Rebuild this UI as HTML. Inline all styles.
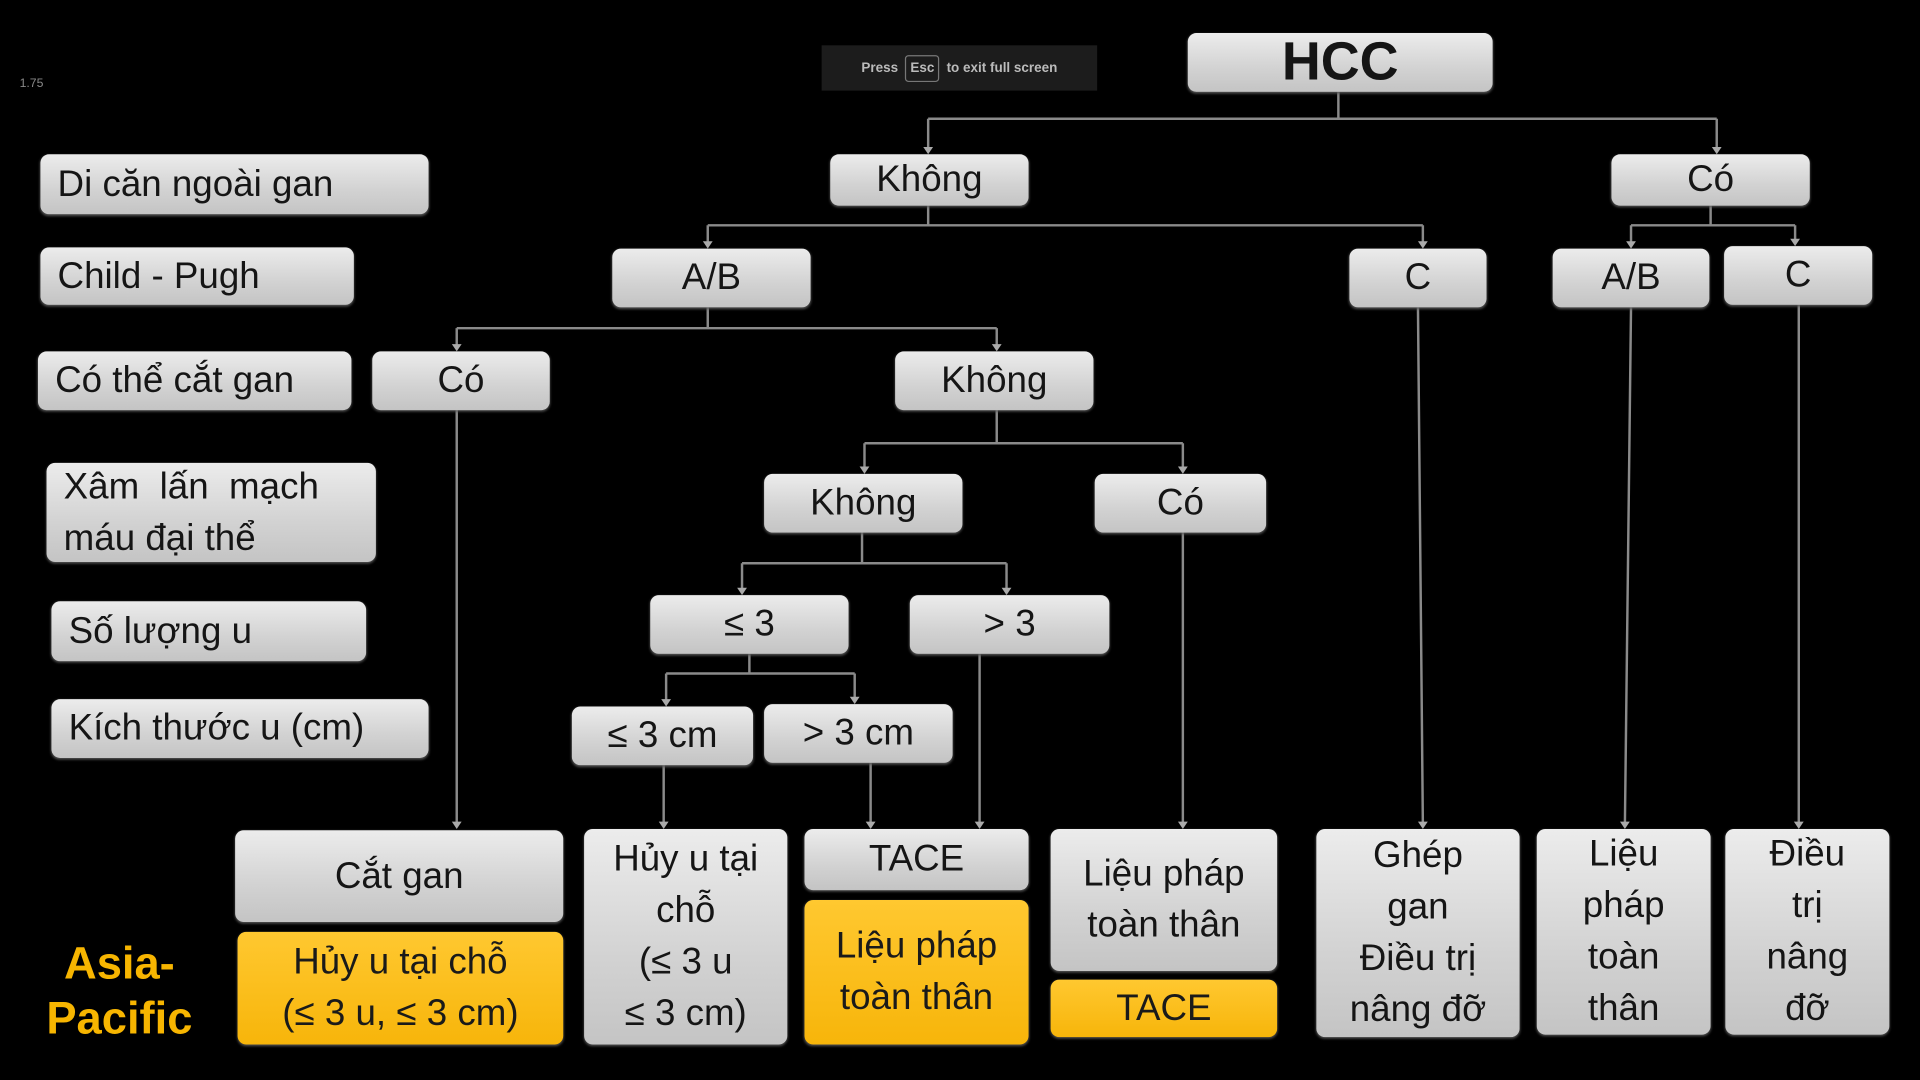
<!DOCTYPE html>
<html><head><meta charset="utf-8">
<style>
html,body{margin:0;padding:0;background:#000;width:1920px;height:1080px;overflow:hidden}
#wrap{position:absolute;left:0;top:0;width:1568px;height:882px;transform:scale(1.22449);transform-origin:0 0;font-family:"Liberation Sans","DejaVu Sans",sans-serif}
.b{position:absolute;box-sizing:border-box;border-radius:7px;background:linear-gradient(#ececec,#d2d2d2 60%,#c4c4c4);color:#151515;display:flex;align-items:center;justify-content:center;text-align:center;font-size:30px;line-height:42px;box-shadow:0 1px 2px #555}
.l{justify-content:flex-start;padding-left:14px;text-align:left}
.o{background:linear-gradient(#ffc830,#f7b50a);color:#1a1a1a}
svg{position:absolute;left:0;top:0}
</style></head><body>
<div id="wrap">
<svg width="1568" height="882">
<defs><marker id="a" markerWidth="8" markerHeight="8" refX="4" refY="6" orient="auto-start-reverse" markerUnits="userSpaceOnUse"><path d="M0,0 L8,0 L4,7z" fill="#999" transform="rotate(0)"/></marker></defs>
<g stroke="#8a8a8a" stroke-width="2" fill="none">
<path d="M1093 75V97M758 97H1402"/><path d="M758 97V122M1402 97V122"/>
<path d="M758 168V184M578 184H1162M578 184V199M1162 184V199"/>
<path d="M1397 168V184M1332 184H1466M1332 184V199M1466 184V197"/>
<path d="M578 251V268M373 268H814M373 268V283M814 268V283"/>
<path d="M373 335V673"/>
<path d="M814 335V362M706 362H966M706 362V383M966 362V383"/>
<path d="M704 435V460M606 460H822M606 460V482M822 460V482"/>
<path d="M966 435V673"/>
<path d="M612 534V550M544 550H698M544 550V573M698 550V571"/>
<path d="M542 625V673M711 623V673M800 534V673"/>
<path d="M1158 251L1162 673M1332 251L1327 673M1469 249V673"/>
</g>
<g fill="#aaa">
<path d="M754 120h8l-4 6z"/><path d="M1398 120h8l-4 6z"/><path d="M574 197h8l-4 6z"/><path d="M1158 197h8l-4 6z"/><path d="M1328 197h8l-4 6z"/><path d="M1462 195h8l-4 6z"/>
<path d="M369 281h8l-4 6z"/><path d="M810 281h8l-4 6z"/><path d="M702 381h8l-4 6z"/><path d="M962 381h8l-4 6z"/><path d="M602 480h8l-4 6z"/><path d="M818 480h8l-4 6z"/><path d="M540 571h8l-4 6z"/><path d="M694 569h8l-4 6z"/>
<path d="M369 671h8l-4 6z"/><path d="M538 671h8l-4 6z"/><path d="M707 671h8l-4 6z"/><path d="M796 671h8l-4 6z"/><path d="M962 671h8l-4 6z"/><path d="M1158 671h8l-4 6z"/><path d="M1323 671h8l-4 6z"/><path d="M1465 671h8l-4 6z"/>
</g>
</svg>
<div style="position:absolute;left:16px;top:63px;font-size:10px;color:#888">1.75</div>
<div style="position:absolute;left:671px;top:37px;width:225px;height:37px;background:#1c1c1c;color:#bbb;font-size:11px;display:flex;align-items:center;justify-content:center;gap:6px;font-weight:bold">Press <span style="border:1px solid #777;border-radius:3px;padding:4px 3px">Esc</span> to exit full screen</div>

<div class="b" style="left:970px;top:27px;width:249px;height:48px;font-size:44px;font-weight:bold">HCC</div>

<div class="b l" style="left:33px;top:126px;width:317px;height:49px">Di căn ngoài gan</div>
<div class="b l" style="left:33px;top:202px;width:256px;height:47px">Child - Pugh</div>
<div class="b l" style="left:31px;top:287px;width:256px;height:48px">Có thể cắt gan</div>
<div class="b l" style="left:38px;top:378px;width:269px;height:81px;text-align:justify">Xâm &nbsp;lấn &nbsp;mạch<br>máu đại thể</div>
<div class="b l" style="left:42px;top:491px;width:257px;height:49px">Số lượng u</div>
<div class="b l" style="left:42px;top:571px;width:308px;height:48px">Kích thước u (cm)</div>

<div class="b" style="left:678px;top:126px;width:162px;height:42px">Không</div>
<div class="b" style="left:1316px;top:126px;width:162px;height:42px">Có</div>
<div class="b" style="left:500px;top:203px;width:162px;height:48px">A/B</div>
<div class="b" style="left:1102px;top:203px;width:112px;height:48px">C</div>
<div class="b" style="left:1268px;top:203px;width:128px;height:48px">A/B</div>
<div class="b" style="left:1408px;top:201px;width:121px;height:48px">C</div>
<div class="b" style="left:304px;top:287px;width:145px;height:48px">Có</div>
<div class="b" style="left:731px;top:287px;width:162px;height:48px">Không</div>
<div class="b" style="left:624px;top:387px;width:162px;height:48px">Không</div>
<div class="b" style="left:894px;top:387px;width:140px;height:48px">Có</div>
<div class="b" style="left:531px;top:486px;width:162px;height:48px">≤ 3</div>
<div class="b" style="left:743px;top:486px;width:163px;height:48px">&gt; 3</div>
<div class="b" style="left:467px;top:577px;width:148px;height:48px">≤ 3 cm</div>
<div class="b" style="left:624px;top:575px;width:154px;height:48px">&gt; 3 cm</div>

<div class="b" style="left:192px;top:678px;width:268px;height:75px">Cắt gan</div>
<div class="b o" style="left:194px;top:761px;width:266px;height:92px">Hủy u tại chỗ<br>(≤ 3 u, ≤ 3 cm)</div>
<div class="b" style="left:477px;top:677px;width:166px;height:176px">Hủy u tại<br>chỗ<br>(≤ 3 u<br>≤ 3 cm)</div>
<div class="b" style="left:657px;top:677px;width:183px;height:50px">TACE</div>
<div class="b o" style="left:657px;top:735px;width:183px;height:118px">Liệu pháp<br>toàn thân</div>
<div class="b" style="left:858px;top:677px;width:185px;height:116px">Liệu pháp<br>toàn thân</div>
<div class="b o" style="left:858px;top:800px;width:185px;height:47px">TACE</div>
<div class="b" style="left:1075px;top:677px;width:166px;height:170px">Ghép<br>gan<br>Điều trị<br>nâng đỡ</div>
<div class="b" style="left:1255px;top:677px;width:142px;height:168px">Liệu<br>pháp<br>toàn<br>thân</div>
<div class="b" style="left:1409px;top:677px;width:134px;height:168px">Điều<br>trị<br>nâng<br>đỡ</div>

<div style="position:absolute;left:30px;top:764px;width:135px;color:#f7b500;font-weight:bold;font-size:37px;line-height:45px;text-align:center">Asia-<br>Pacific</div>
</div>
</body></html>
